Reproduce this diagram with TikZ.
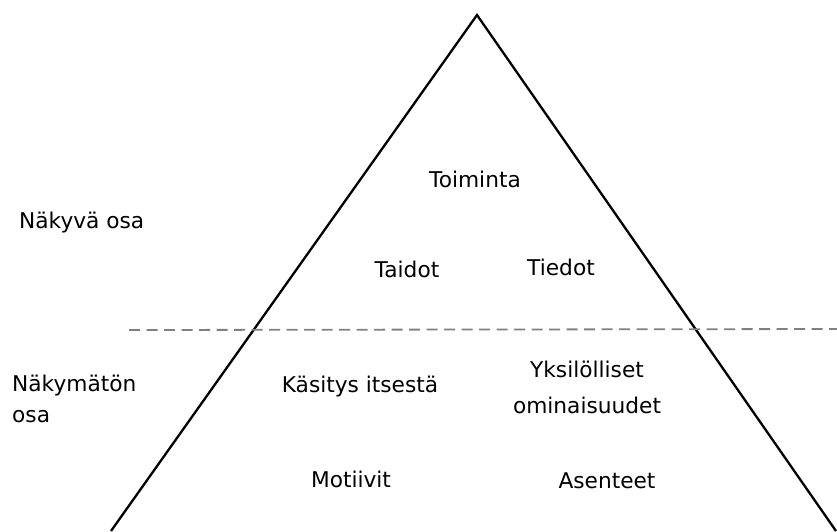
\documentclass[tikz,border=0pt]{standalone}
\usepackage{fontspec}
\setmainfont{DejaVu Sans}
\begin{document}
\begin{tikzpicture}[x=1pt,y=-1pt,
  lbl/.style={font=\fontsize{21.7}{26}\selectfont, inner sep=0pt, text=black, anchor=base},
  side/.style={lbl, anchor=base west},
  tri/.style={line width=2.3pt, line join=miter},
  sep/.style={line width=1.8pt, draw=black!50, dash pattern=on 11pt off 6.5pt}]
\useasboundingbox (0,0) rectangle (837,531);
\coordinate (apex) at (477,15);
\coordinate (bl) at (111,531);
\coordinate (br) at (836,531);
\coordinate (dl) at (129,330);
\coordinate (dr) at (837,329);
\draw[tri] (bl) -- (apex) -- (br);
\draw[sep] (dl) -- (dr);
\node[lbl] (toiminta) at (475,187) {Toiminta};
\node[side] (nakyva) at (19,228) {Näkyvä osa};
\node[lbl] (taidot) at (407,277) {Taidot};
\node[lbl] (tiedot) at (561,275) {Tiedot};
\node[side] (nakymaton) at (12,391) {Näkymätön};
\node[side] (osa) at (12,422) {osa};
\node[lbl] (kasitys) at (360,392) {Käsitys itsestä};
\node[lbl] (yksil) at (587,377) {Yksilölliset};
\node[lbl] (omin) at (587,413) {ominaisuudet};
\node[lbl] (motiivit) at (351,487) {Motiivit};
\node[lbl] (asenteet) at (607,488) {Asenteet};
\end{tikzpicture}
\end{document}
